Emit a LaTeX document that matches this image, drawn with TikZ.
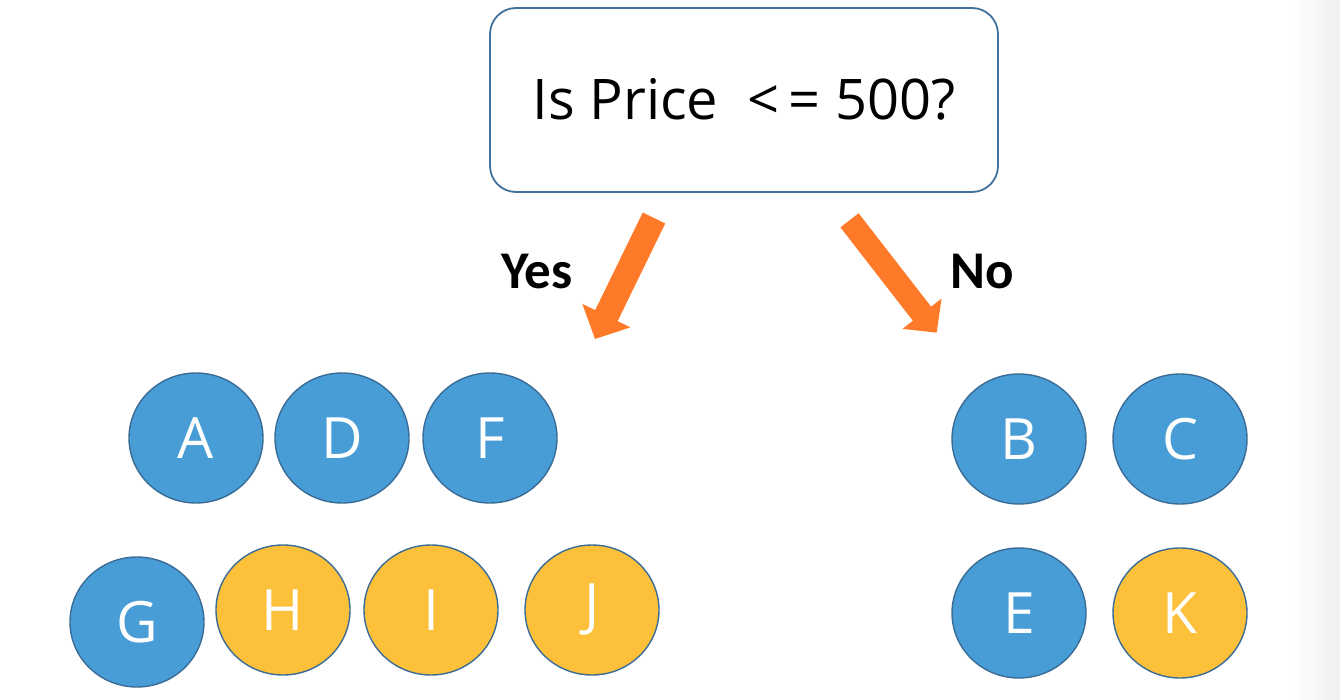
\documentclass[tikz,border=0pt]{standalone}
\usepackage{fontspec}
\setmainfont{Open Sans}
\newfontfamily\labelfont{Carlito}
\usetikzlibrary{shapes.geometric,arrows.meta}
\definecolor{boxline}{RGB}{65,113,156}
\definecolor{circblue}{RGB}{72,157,214}
\definecolor{circyellow}{RGB}{253,192,58}
\definecolor{circline}{RGB}{58,108,150}
\definecolor{arrorange}{RGB}{255,122,40}
\tikzset{
  bubble/.style={ellipse, draw=circline, line width=1.4pt, minimum width=134pt, minimum height=130pt,
    inner sep=0pt, text=white, font=\fontsize{57}{60}\selectfont},
  bluebubble/.style={bubble, fill=circblue},
  yellowbubble/.style={bubble, fill=circyellow},
  decision/.style={draw=boxline, line width=1.8pt, rounded corners=26pt, minimum width=508pt,
    minimum height=184pt, inner sep=0pt, font=\fontsize{56}{60}\selectfont},
  branchlabel/.style={font=\labelfont\bfseries\fontsize{53}{55}\selectfont},
  bigarrow/.style={draw=arrorange, line cap=butt}
}
\begin{document}
\begin{tikzpicture}[x=1pt,y=-1pt]
\useasboundingbox (0,0) rectangle (1340,700);
\fill[white] (0,0) rectangle (1340,700);
\shade[left color=white, right color=black!6] (1290,0) rectangle (1340,700);

\node[decision] (q) at (744,100) {\raisebox{3pt}{Is Price\ \ <\,= 500?}};

% arrows
\coordinate (ytail) at (654,218);
\coordinate (ytip) at (595,339);
\coordinate (ntail) at (849.5,220.3);
\coordinate (ntip) at (936.7,332.7);
\draw[bigarrow, line width=25pt, -{Triangle[length=26pt,width=52pt]}] (ytail) -- (ytip);
\draw[bigarrow, line width=23pt, -{Triangle[length=24pt,width=48pt]}] (ntail) -- (ntip);

\node[branchlabel] (yes) at (537,272) {Yes};
\node[branchlabel] (no) at (982,272) {No};

% left group
\node[bluebubble] (A) at (196,438) {A};
\node[bluebubble] (D) at (342,438) {D};
\node[bluebubble] (F) at (490,438) {F};
\node[bluebubble] (G) at (137,622) {G};
\node[yellowbubble] (H) at (283,610) {H};
\node[yellowbubble] (I) at (431,610) {I};
\node[yellowbubble] (J) at (592,610) {J};

% right group
\node[bluebubble] (B) at (1019,439) {B};
\node[bluebubble] (C) at (1180,439) {C};
\node[bluebubble] (E) at (1019,613) {E};
\node[yellowbubble] (K) at (1180,613) {K};
\end{tikzpicture}
\end{document}
